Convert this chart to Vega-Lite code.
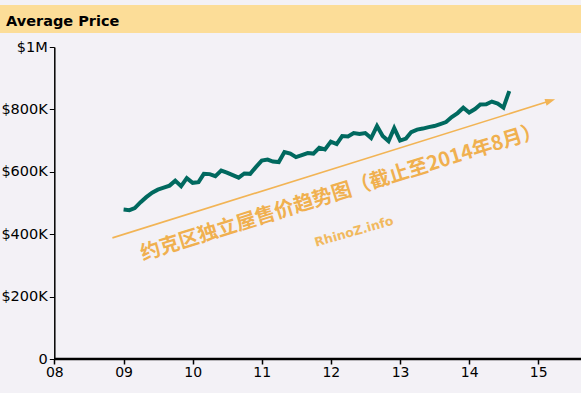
{
  "$schema": "https://vega.github.io/schema/vega-lite/v6.json",
  "background": "#f3f1f6",
  "padding": {"left": 0, "top": 5, "right": 0, "bottom": 15},
  "config": {"view": {"stroke": null}, "font": "DejaVu Sans"},
  "spacing": 6,
  "datasets": {
    "prices": [
      {"date": "2009-01-01", "price": 479300},
      {"date": "2009-02-01", "price": 477100},
      {"date": "2009-03-01", "price": 483500},
      {"date": "2009-04-01", "price": 502700},
      {"date": "2009-05-01", "price": 518800},
      {"date": "2009-06-01", "price": 533200},
      {"date": "2009-07-01", "price": 542800},
      {"date": "2009-08-01", "price": 549200},
      {"date": "2009-09-01", "price": 555700},
      {"date": "2009-10-01", "price": 571700},
      {"date": "2009-11-01", "price": 554100},
      {"date": "2009-12-01", "price": 579700},
      {"date": "2010-01-01", "price": 564600},
      {"date": "2010-02-01", "price": 566900},
      {"date": "2010-03-01", "price": 593500},
      {"date": "2010-04-01", "price": 592600},
      {"date": "2010-05-01", "price": 586100},
      {"date": "2010-06-01", "price": 603800},
      {"date": "2010-07-01", "price": 597400},
      {"date": "2010-08-01", "price": 589400},
      {"date": "2010-09-01", "price": 581300},
      {"date": "2010-10-01", "price": 594800},
      {"date": "2010-11-01", "price": 593500},
      {"date": "2010-12-01", "price": 615000},
      {"date": "2011-01-01", "price": 635900},
      {"date": "2011-02-01", "price": 639100},
      {"date": "2011-03-01", "price": 632700},
      {"date": "2011-04-01", "price": 631100},
      {"date": "2011-05-01", "price": 663100},
      {"date": "2011-06-01", "price": 658300},
      {"date": "2011-07-01", "price": 647100},
      {"date": "2011-08-01", "price": 653500},
      {"date": "2011-09-01", "price": 659900},
      {"date": "2011-10-01", "price": 658300},
      {"date": "2011-11-01", "price": 676900},
      {"date": "2011-12-01", "price": 671800},
      {"date": "2012-01-01", "price": 696800},
      {"date": "2012-02-01", "price": 688800},
      {"date": "2012-03-01", "price": 714500},
      {"date": "2012-04-01", "price": 712900},
      {"date": "2012-05-01", "price": 724100},
      {"date": "2012-06-01", "price": 720900},
      {"date": "2012-07-01", "price": 724100},
      {"date": "2012-08-01", "price": 708000},
      {"date": "2012-09-01", "price": 746500},
      {"date": "2012-10-01", "price": 714500},
      {"date": "2012-11-01", "price": 698400},
      {"date": "2012-12-01", "price": 740100},
      {"date": "2013-01-01", "price": 700000},
      {"date": "2013-02-01", "price": 706400},
      {"date": "2013-03-01", "price": 727300},
      {"date": "2013-04-01", "price": 735300},
      {"date": "2013-05-01", "price": 738500},
      {"date": "2013-06-01", "price": 743300},
      {"date": "2013-07-01", "price": 746500},
      {"date": "2013-08-01", "price": 753000},
      {"date": "2013-09-01", "price": 759400},
      {"date": "2013-10-01", "price": 775400},
      {"date": "2013-11-01", "price": 788200},
      {"date": "2013-12-01", "price": 805300},
      {"date": "2014-01-01", "price": 789900},
      {"date": "2014-02-01", "price": 801100},
      {"date": "2014-03-01", "price": 815500},
      {"date": "2014-04-01", "price": 816200},
      {"date": "2014-05-01", "price": 825100},
      {"date": "2014-06-01", "price": 818700},
      {"date": "2014-07-01", "price": 805900},
      {"date": "2014-08-01", "price": 858800}
    ],
    "arrow": [
      {"start": "2008-11-03", "low": 388200, "end": "2015-03-06", "high": 827400}
    ]
  },
  "vconcat": [
    {
      "width": 581,
      "height": 28,
      "view": {"fill": "#fcdd98", "stroke": null},
      "data": {"values": [{"label": "Average Price", "pos": 0}]},
      "mark": {"type": "text", "align": "left", "baseline": "middle", "dx": 6, "dy": 3, "fontSize": 14.5, "fontWeight": "bold", "font": "DejaVu Sans", "color": "#000000"},
      "encoding": {
        "x": {"field": "pos", "type": "quantitative", "scale": {"domain": [0, 1]}, "axis": null},
        "text": {"field": "label"}
      }
    },
    {
      "width": 581,
      "height": 312,
      "layer": [
        {
          "data": {"name": "arrow"},
          "mark": {"type": "rule", "color": "#f2b455", "strokeWidth": 1.6},
          "encoding": {
            "x": {"field": "start", "type": "temporal"},
            "y": {"field": "low", "type": "quantitative"},
            "x2": {"field": "end"},
            "y2": {"field": "high"}
          }
        },
        {
          "data": {"name": "arrow"},
          "mark": {"type": "point", "shape": "M1,0L-1,-0.7L-1,0.7Z", "filled": true, "color": "#f2b455", "opacity": 1, "size": 100, "angle": 342.7},
          "encoding": {
            "x": {"field": "end", "type": "temporal"},
            "y": {"field": "high", "type": "quantitative"}
          }
        },
        {
          "data": {"values": [{"label": "约克区独立屋售价趋势图（截止至2014年8月）", "date": "2012-02-25", "price": 534000}]},
          "mark": {"type": "text", "font": "Noto Sans CJK SC", "fontWeight": "bold", "fontSize": 20, "color": "#f0b04f", "angle": 342.7, "align": "center", "baseline": "middle"},
          "encoding": {
            "x": {"field": "date", "type": "temporal"},
            "y": {"field": "price", "type": "quantitative"},
            "text": {"field": "label"}
          }
        },
        {
          "data": {"values": [{"label": "RhinoZ.info", "date": "2012-05-03", "price": 408000}]},
          "mark": {"type": "text", "font": "DejaVu Sans", "fontWeight": "bold", "fontSize": 12.5, "color": "#f1b95f", "angle": 344, "align": "center", "baseline": "middle"},
          "encoding": {
            "x": {"field": "date", "type": "temporal"},
            "y": {"field": "price", "type": "quantitative"},
            "text": {"field": "label"}
          }
        },
        {
          "data": {"values": [{"from": "2008-01-01", "to": "2015-08-15", "base": 0}]},
          "mark": {"type": "rule", "color": "#000000", "strokeWidth": 2.5},
          "encoding": {
            "x": {"field": "from", "type": "temporal"},
            "x2": {"field": "to"},
            "y": {"field": "base", "type": "quantitative"}
          }
        },
        {
          "data": {"name": "prices"},
          "mark": {"type": "line", "color": "#00695f", "strokeWidth": 4},
          "encoding": {
            "x": {
              "field": "date",
              "type": "temporal",
              "scale": {"type": "utc", "domain": [{"year": 2007, "month": 3, "date": 20, "utc": true}, {"year": 2015, "month": 8, "date": 15, "utc": true}], "nice": false},
              "axis": {
                "title": null,
                "grid": false,
                "domain": false,
                "format": "%y",
                "tickCount": {"interval": "year", "step": 1},
                "labelFlush": false,
                "labelFont": "DejaVu Sans",
                "labelFontSize": 14,
                "labelColor": "#000000",
                "labelPadding": 1,
                "tickColor": "#000000",
                "tickWidth": 1.5,
                "tickSize": 5
              }
            },
            "y": {
              "field": "price",
              "type": "quantitative",
              "scale": {"domain": [0, 1000000], "nice": false},
              "axis": {
                "title": null,
                "grid": false,
                "offset": -54.3,
                "values": [0, 200000, 400000, 600000, 800000, 1000000],
                "labelExpr": "datum.value == 0 ? '0' : datum.value >= 1000000 ? '$1M' : '$' + (datum.value / 1000) + 'K'",
                "labelFont": "DejaVu Sans",
                "labelFontSize": 14.5,
                "labelColor": "#000000",
                "labelPadding": 2,
                "domainColor": "#000000",
                "domainWidth": 1.5,
                "tickColor": "#000000",
                "tickWidth": 1,
                "tickSize": 5
              }
            }
          }
        }
      ]
    }
  ]
}
